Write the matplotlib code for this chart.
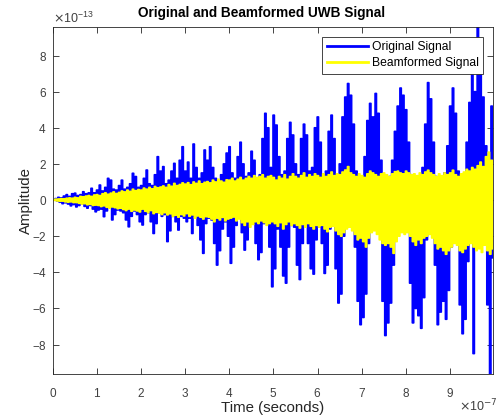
import numpy as np
import matplotlib
matplotlib.use("Agg")
import matplotlib.pyplot as plt
from matplotlib.ticker import ScalarFormatter

plt.rcParams['font.family'] = ['Liberation Sans', 'DejaVu Sans']
plt.rcParams['axes.unicode_minus'] = False
plt.rcParams['path.simplify'] = False

# amplitudes in units of 1e-13, one high/low pair per step (160 steps over 0..9.98e-7 s)
orig_high = [
    0.00, 0.08, 0.15, 0.12, 0.22, 0.30, 0.20, 0.35,
    0.38, 0.25, 0.30, 0.46, 0.35, 0.40, 0.65, 0.40,
    0.55, 0.83, 0.50, 0.70, 1.20, 1.10, 0.60, 0.55,
    0.80, 1.10, 0.60, 0.70, 0.90, 1.48, 1.30, 0.70,
    0.80, 1.20, 1.66, 0.90, 0.80, 1.40, 2.40, 1.60,
    1.85, 0.90, 1.10, 1.60, 2.03, 1.20, 2.20, 2.95,
    1.60, 2.10, 1.20, 3.10, 1.80, 1.20, 1.50, 2.77,
    2.20, 2.95, 1.80, 1.20, 1.00, 1.40, 2.00, 2.60,
    2.95, 1.50, 1.20, 2.40, 3.20, 2.00, 1.30, 1.50,
    2.70, 2.20, 1.20, 1.40, 3.40, 4.80, 4.00, 1.80,
    4.70, 4.15, 2.40, 1.40, 1.60, 3.40, 4.30, 3.60,
    2.00, 1.40, 3.40, 4.20, 3.60, 1.60, 1.80, 4.00,
    4.60, 3.20, 1.40, 1.60, 3.80, 4.70, 3.40, 1.40,
    2.00, 4.60, 5.70, 6.45, 5.80, 4.20, 1.60, 1.20,
    1.20, 2.40, 4.40, 5.35, 4.60, 5.90, 4.80, 2.20,
    1.20, 1.00, 1.30, 2.20, 3.80, 5.20, 6.20, 5.80,
    5.00, 3.20, 1.40, 1.00, 1.30, 1.20, 1.80, 4.20,
    6.50, 5.60, 3.20, 1.30, 1.00, 1.20, 1.50, 3.00,
    5.20, 6.20, 4.80, 1.60, 1.20, 1.40, 3.20, 5.40,
    7.60, 6.00, 9.58, 7.80, 5.70, 3.00, 1.40, 5.20,
]
orig_low = [
    0.00, -0.05, -0.12, -0.20, -0.15, -0.22, -0.32, -0.25,
    -0.38, -0.30, -0.20, -0.35, -0.45, -0.30, -0.50, -0.65,
    -0.55, -0.50, -0.92, -0.60, -0.40, -1.10, -0.80, -0.55,
    -0.60, -0.70, -1.10, -1.48, -0.90, -0.60, -0.80, -1.20,
    -1.38, -0.80, -0.70, -1.20, -1.85, -1.30, -0.70, -0.90,
    -0.80, -2.30, -1.70, -0.90, -1.20, -1.66, -0.90, -1.00,
    -1.20, -1.00, -1.85, -0.90, -1.40, -2.20, -2.95, -1.30,
    -1.00, -1.10, -2.40, -3.60, -2.80, -1.60, -1.20, -2.00,
    -3.50, -2.60, -1.40, -1.00, -1.80, -2.77, -2.20, -1.30,
    -1.30, -2.40, -3.30, -2.90, -1.30, -1.20, -2.60, -4.80,
    -3.80, -1.60, -2.60, -4.20, -4.60, -2.60, -1.40, -1.50,
    -3.60, -4.40, -2.40, -1.40, -2.40, -3.80, -4.10, -2.20,
    -1.50, -2.40, -4.06, -3.60, -1.60, -1.40, -3.80, -5.70,
    -5.20, -2.00, -1.20, -1.00, -1.30, -2.60, -5.60, -6.90,
    -6.50, -5.20, -2.40, -1.20, -1.40, -1.00, -1.60, -5.60,
    -7.50, -6.80, -5.70, -3.60, -1.60, -1.20, -1.00, -1.30,
    -1.60, -4.60, -6.80, -6.00, -6.40, -7.10, -5.40, -2.20,
    -1.20, -1.40, -3.60, -6.90, -6.20, -5.60, -6.60, -5.00,
    -2.60, -1.20, -1.60, -5.80, -7.40, -6.60, -3.40, -1.60,
    -8.50, -1.60, -1.20, -1.40, -2.00, -5.80, -9.63, -3.20,
]
beam_high = [
    0.02, 0.05, 0.06, 0.08, 0.07, 0.10, 0.12, 0.10,
    0.15, 0.12, 0.20, 0.18, 0.22, 0.25, 0.20, 0.28,
    0.30, 0.25, 0.35, 0.40, 0.32, 0.38, 0.45, 0.36,
    0.42, 0.50, 0.45, 0.55, 0.48, 0.60, 0.52, 0.58,
    0.55, 0.66, 0.60, 0.70, 0.62, 0.75, 0.68, 0.72,
    0.78, 0.70, 0.85, 0.76, 0.92, 0.80, 0.86, 0.95,
    0.88, 0.96, 0.85, 1.00, 0.92, 1.05, 0.90, 0.98,
    1.02, 0.95, 1.10, 1.00, 1.15, 1.05, 0.98, 1.12,
    1.10, 1.20, 1.05, 1.15, 1.25, 1.10, 1.20, 1.30,
    1.20, 1.35, 1.25, 1.30, 1.40, 1.20, 1.30, 1.35,
    1.25, 1.10, 1.30, 1.20, 1.40, 1.15, 1.30, 1.45,
    1.30, 1.20, 1.35, 1.50, 1.25, 1.40, 1.30, 1.45,
    1.35, 1.25, 1.45, 1.30, 1.40, 1.55, 1.35, 1.45,
    1.40, 1.55, 1.66, 1.85, 1.50, 1.40, 1.30, 1.45,
    1.35, 1.25, 1.45, 1.60, 1.50, 1.40, 1.30, 1.45,
    1.50, 1.40, 1.30, 1.45, 1.57, 1.60, 1.50, 1.45,
    1.60, 1.50, 1.40, 1.45, 1.35, 1.50, 1.40, 1.55,
    1.65, 1.50, 1.40, 1.30, 1.45, 1.35, 1.50, 1.40,
    1.50, 1.65, 1.40, 1.30, 1.45, 1.55, 1.70, 1.60,
    1.80, 1.70, 1.90, 2.10, 1.85, 2.40, 2.65, 2.20,
]
beam_low = [
    -0.02, -0.05, -0.07, -0.06, -0.10, -0.12, -0.10, -0.14,
    -0.14, -0.18, -0.22, -0.20, -0.26, -0.24, -0.30, -0.28,
    -0.30, -0.36, -0.32, -0.40, -0.45, -0.38, -0.42, -0.48,
    -0.45, -0.52, -0.58, -0.50, -0.62, -0.55, -0.60, -0.66,
    -0.50, -0.62, -0.70, -0.58, -0.75, -0.68, -0.72, -0.80,
    -0.70, -0.82, -0.76, -0.90, -0.84, -0.95, -0.80, -0.88,
    -0.75, -0.90, -0.82, -1.00, -0.88, -0.95, -1.05, -0.92,
    -0.95, -1.05, -1.20, -1.00, -1.10, -0.96, -1.15, -1.05,
    -1.00, -0.94, -1.15, -1.05, -1.25, -1.40, -1.20, -1.50,
    -1.35, -1.20, -1.30, -1.15, -1.25, -1.40, -1.30, -1.20,
    -1.30, -1.45, -1.25, -1.60, -1.35, -1.20, -1.40, -1.30,
    -1.40, -1.55, -1.35, -1.50, -1.30, -1.45, -1.60, -1.40,
    -1.50, -1.40, -1.60, -1.75, -1.50, -1.45, -1.70, -1.90,
    -2.00, -1.80, -1.60, -1.50, -1.70, -1.90, -2.20, -2.10,
    -2.30, -2.60, -2.10, -1.80, -1.70, -1.90, -2.20, -2.40,
    -2.50, -2.40, -2.60, -2.95, -2.30, -2.00, -1.80, -1.90,
    -1.80, -2.00, -2.30, -2.50, -2.20, -2.40, -2.10, -2.00,
    -1.90, -2.10, -2.40, -2.70, -2.60, -2.80, -3.00, -2.80,
    -2.60, -2.40, -2.50, -2.80, -2.90, -2.70, -2.50, -2.40,
    -2.60, -2.80, -2.70, -2.90, -2.50, -2.80, -3.00, -2.70,
]


def interleave(high, low):
    out = np.empty(2 * len(high))
    out[0::2] = high
    out[1::2] = low
    return out * 1e-13


original = interleave(orig_high, orig_low)
beamformed = interleave(beam_high, beam_low)
t = np.linspace(0, 9.98e-7, len(original))

fig = plt.figure(figsize=(4.99, 4.17), dpi=100)
ax = fig.add_axes([0.1062, 0.1031, 0.8818, 0.8322])

ax.plot(t, original, color='#0000ff', lw=1.2, drawstyle='steps-mid', snap=False,
        label='Original Signal')
ax.plot(t, beamformed, color='#ffff00', lw=1.2, drawstyle='steps-mid', snap=False,
        label='Beamformed Signal')

ax.set_xlim(t[0], t[-1])
ax.set_ylim(min(original.min(), beamformed.min()), max(original.max(), beamformed.max()))
ax.set_xticks(np.arange(0, 10) * 1e-7)
ax.set_yticks(np.arange(-8, 9, 2) * 1e-13)

for axis in (ax.xaxis, ax.yaxis):
    fmt = ScalarFormatter(useMathText=True)
    fmt.set_powerlimits((0, 0))
    axis.set_major_formatter(fmt)
ax.yaxis.get_offset_text().set_fontsize(9)
ax.yaxis.get_offset_text().set_color('#404040')
# x exponent placed by hand so it stays inside the figure
ax.xaxis.get_offset_text().set_visible(False)
fig.text(0.958, 0.006, r'$\times$10$^{-7}$', fontsize=9, color='#404040',
         ha='center', va='bottom')

ax.tick_params(direction='in', top=True, right=True, length=4, width=0.6,
               labelsize=8.5, colors='#262626', labelcolor='#404040')
ax.tick_params(axis='x', pad=9)
ax.tick_params(axis='y', pad=4.5)
for s in ax.spines.values():
    s.set_linewidth(0.6)
    s.set_color('#262626')

ax.set_title('Original and Beamformed UWB Signal', fontsize=9.8, fontweight='bold',
             x=0.473, pad=7)
ax.set_xlabel('Time (seconds)', fontsize=10.8, color='#262626', labelpad=1)
ax.set_ylabel('Amplitude', fontsize=10.8, color='#262626', labelpad=-1)

leg = ax.legend(loc='upper right', fontsize=8.7, frameon=True, fancybox=False,
                edgecolor='#262626', framealpha=1, borderpad=0.4, labelspacing=0.3,
                handlelength=3.4, handletextpad=0.3, borderaxespad=0.8)
leg.get_frame().set_linewidth(0.6)
for line in leg.get_lines():
    line.set_linewidth(2)

fig.savefig('out.png', dpi=100)
